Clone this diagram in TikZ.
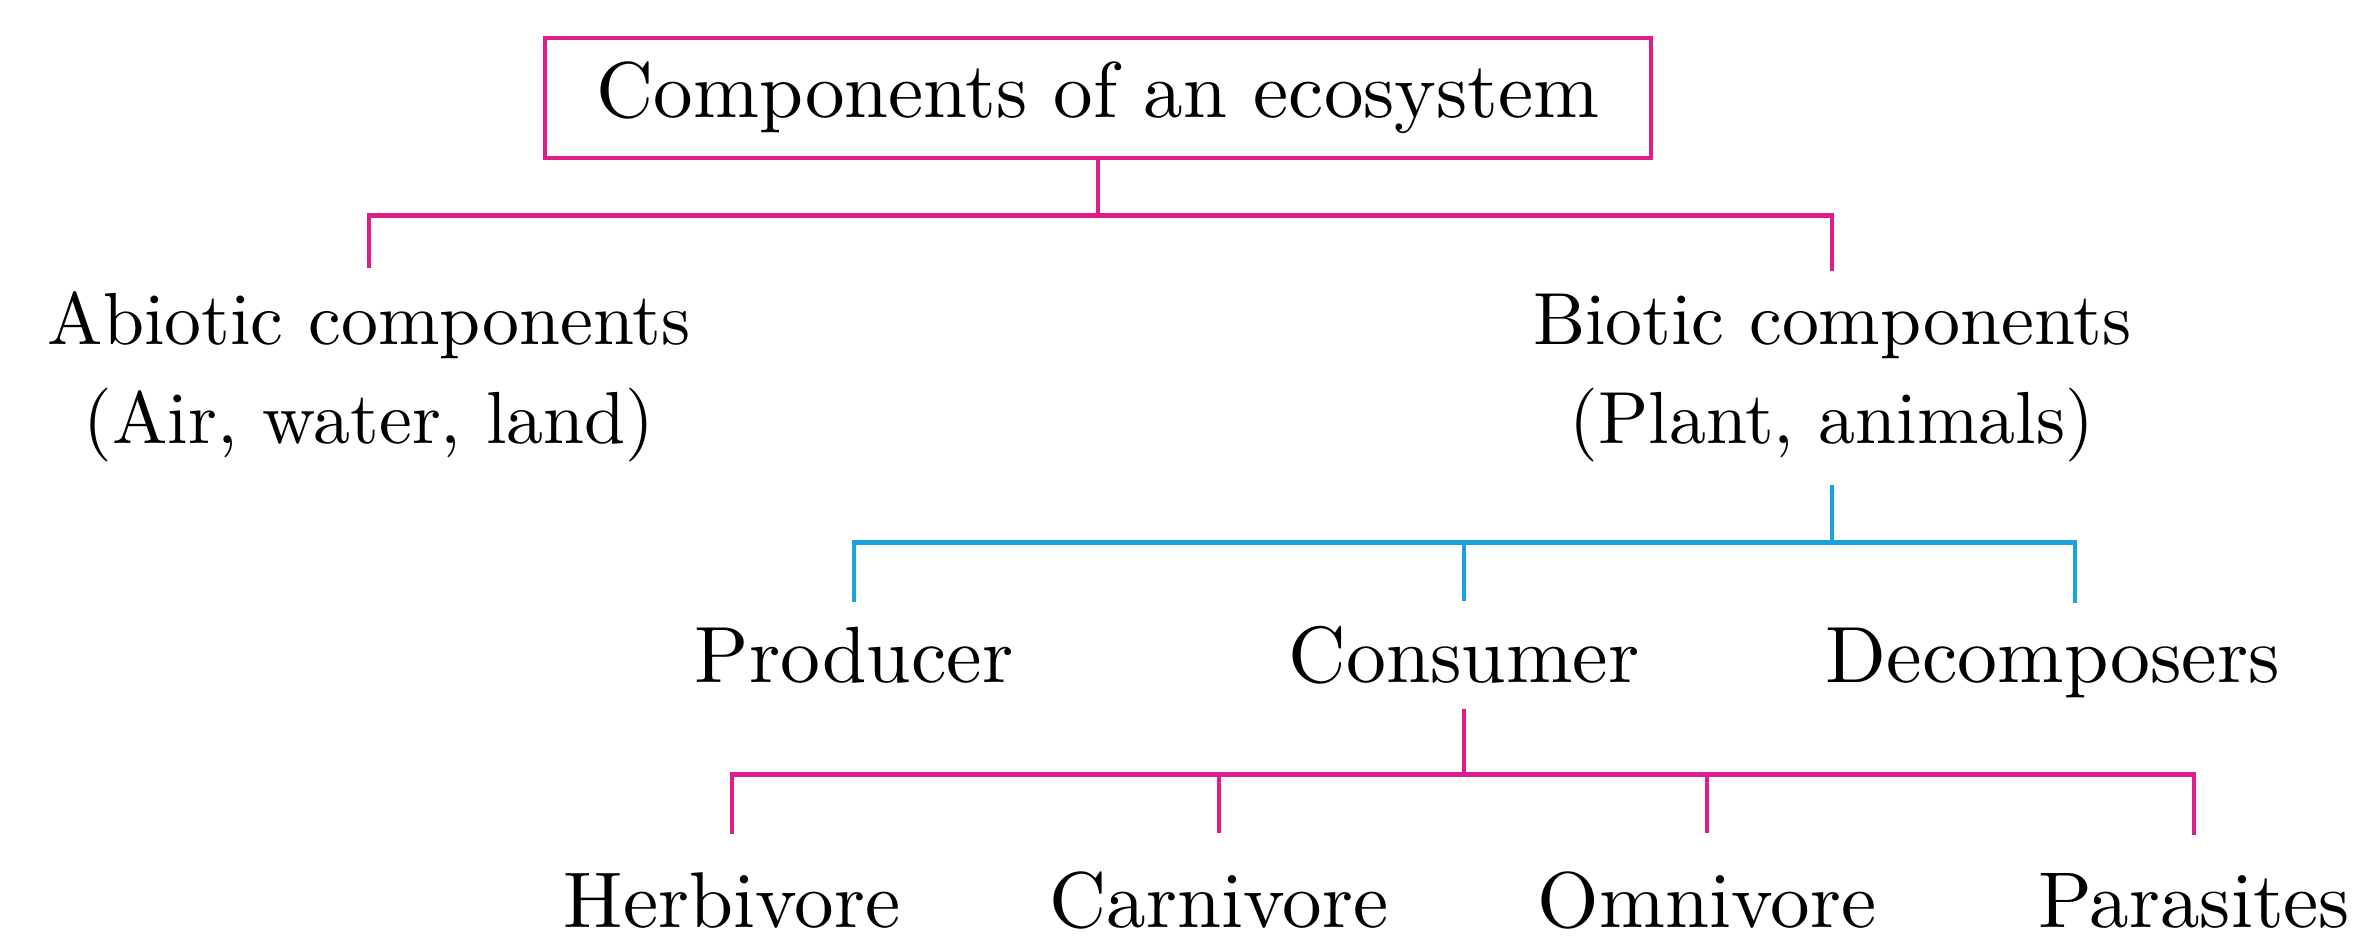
\documentclass[tikz,border=0pt]{standalone}
\usepackage{fontspec}
\setmainfont{lmroman10-regular.otf}
\definecolor{ecopink}{RGB}{222,28,138}
\definecolor{ecoblue}{RGB}{27,163,222}
\begin{document}
\begin{tikzpicture}[pinkline/.style={draw=ecopink,line width=1.4pt},blueline/.style={draw=ecoblue,line width=1.4pt},
lbl/.style={inner sep=0pt,anchor=base,font=\fontsize{22.7}{27}\selectfont}]
\useasboundingbox(0,0)rectangle(23.53,-9.35);
\node[pinkline,inner sep=0pt,minimum width=11.06cm,minimum height=1.2cm,font=\fontsize{22.5}{27}\selectfont](eco)at(10.98,-0.98){Components of an ecosystem};
\node[lbl,align=center,outer ysep=0.24cm,font=\fontsize{21}{27.9}\selectfont](abio)at(3.69,-4.43){Abiotic components\\(Air, water, land)};
\node[lbl,align=center,outer ysep=0.24cm,font=\fontsize{21}{27.9}\selectfont](bio)at(18.32,-4.43){Biotic components\\(Plant, animals)};
\foreach \n/\x/\s in {prod/8.54/Producer,cons/14.64/Consumer,dec/20.53/Decomposers}{\node[lbl,outer ysep=0.25cm](\n)at(\x,-6.82){\s};}
\foreach \n/\x/\s in {herb/7.32/Herbivore,carn/12.19/Carnivore,omni/17.07/Omnivore,para/21.94/Parasites}{\node[lbl,outer ysep=0.38cm,font=\fontsize{22.5}{27}\selectfont](\n)at(\x,-9.27){\s};}
\draw[pinkline](eco.south)--++(0,-0.55)coordinate(j1);
\draw[pinkline](abio.north)|-(j1)-|(bio.north);
\draw[blueline](bio.south)--++(0,-0.57)coordinate(j2);
\draw[blueline](prod.north)|-(j2)-|([xshift=2.2mm]dec.north);
\draw[blueline](cons.north)--(cons.north|-j2);
\draw[pinkline](cons.south)--++(0,-0.66)coordinate(j3);
\draw[pinkline](herb.north)|-(j3)-|(para.north);
\foreach \n in {carn,omni}{\draw[pinkline](\n.north)--(\n.north|-j3);}
\end{tikzpicture}
\end{document}
